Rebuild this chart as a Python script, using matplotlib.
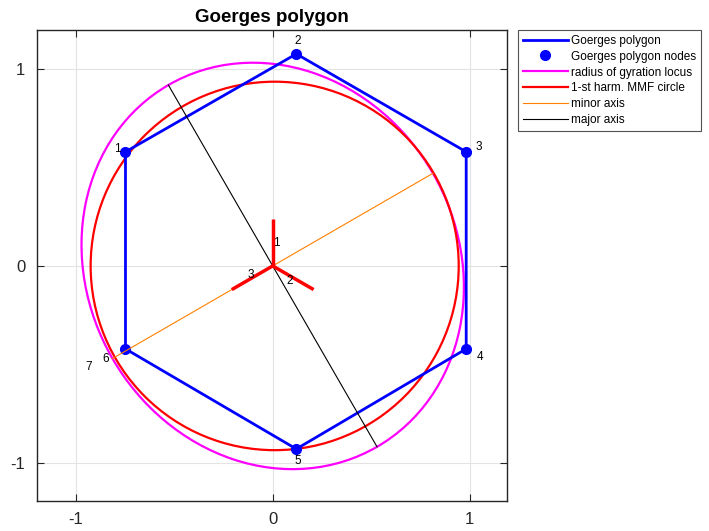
import matplotlib.pyplot as plt
from matplotlib.patches import Ellipse, Circle
from matplotlib.lines import Line2D
import numpy as np

plt.rcParams['font.family'] = ['Liberation Sans', 'DejaVu Sans']
plt.rcParams['axes.unicode_minus'] = False

# Goerges polygon nodes (closed back to node 1)
node_x = [-0.748, 0.120, 0.983, 0.983, 0.120, -0.748, -0.748]
node_y = [0.579, 1.076, 0.579, -0.421, -0.929, -0.421, 0.579]
node_labels = ['1', '2', '3', '4', '5', '6', '7']
label_x = [-0.79, 0.126, 1.049, 1.054, 0.126, -0.85, -0.935]
label_y = [0.594, 1.142, 0.604, -0.462, -0.99, -0.472, -0.513]

# radius of gyration ellipse
ell_center = (0.0, 0.0)
ell_a = 1.06
ell_b = 0.94
ell_angle = 120.0

# first harmonic MMF circle
circ_center = (0.01, 0.0)
circ_r = 0.935

# phase axes (star)
phase_len = 0.24
phase_angles = [90, -30, 210]
phase_labels = ['1', '2', '3']
phase_lx = [0.019, 0.085, -0.113]
phase_ly = [0.117, -0.076, -0.046]

fig = plt.figure(figsize=(7.09, 5.31), dpi=100)
ax = fig.add_axes([0.0515, 0.0565, 0.6635, 0.8865])

ax.grid(True, color='#e3e3e3', linewidth=0.8)
ax.set_axisbelow(True)

ax.plot(node_x, node_y, color='blue', linewidth=2)
ax.plot(node_x[:-1], node_y[:-1], 'o', color='blue', markersize=7)

ax.add_patch(Ellipse(ell_center, 2 * ell_a, 2 * ell_b, angle=ell_angle,
                     fill=False, edgecolor='magenta', linewidth=1.6))
ax.add_patch(Circle(circ_center, circ_r, fill=False, edgecolor='red', linewidth=1.6))

t = np.deg2rad(ell_angle)
ax.plot([-ell_b * np.cos(t - np.pi / 2), ell_b * np.cos(t - np.pi / 2)],
        [-ell_b * np.sin(t - np.pi / 2), ell_b * np.sin(t - np.pi / 2)],
        color='#ff8000', linewidth=0.8)
ax.plot([-ell_a * np.cos(t), ell_a * np.cos(t)],
        [-ell_a * np.sin(t), ell_a * np.sin(t)],
        color='black', linewidth=0.8)

for ang in phase_angles:
    r = np.deg2rad(ang)
    ax.plot([0, phase_len * np.cos(r)], [0, phase_len * np.sin(r)],
            color='red', linewidth=2.5, solid_capstyle='butt')
for lab, x, y in zip(phase_labels, phase_lx, phase_ly):
    ax.text(x, y, lab, fontsize=8.5, ha='center', va='center')

for lab, x, y in zip(node_labels, label_x, label_y):
    ax.text(x, y, lab, fontsize=8.5, ha='center', va='center')

ax.set_xlim(-1.2, 1.19)
ax.set_ylim(-1.193, 1.196)
ax.set_xticks([-1, 0, 1])
ax.set_yticks([-1, 0, 1])
ax.tick_params(direction='in', length=5, top=True, right=True, labelsize=12,
               color='#262626', labelcolor='#262626', pad=8)
for s in ax.spines.values():
    s.set_color('#262626')
    s.set_linewidth(1)

ax.set_title('Goerges polygon', fontsize=13.5, fontweight='bold', pad=6)

handles = [
    Line2D([], [], color='blue', linewidth=2),
    Line2D([], [], color='blue', marker='o', linestyle='none', markersize=7),
    Line2D([], [], color='magenta', linewidth=1.6),
    Line2D([], [], color='red', linewidth=1.6),
    Line2D([], [], color='#ff8000', linewidth=0.8),
    Line2D([], [], color='black', linewidth=0.8),
]
labels = ['Goerges polygon', 'Goerges polygon nodes', 'radius of gyration locus',
          '1-st harm. MMF circle', 'minor axis', 'major axis']
leg = fig.legend(handles, labels, loc='upper left', bbox_to_anchor=(518 / 709, 1 - 30 / 531),
                 fontsize=8.5, frameon=True, fancybox=False, edgecolor='#262626',
                 handlelength=3.8, handletextpad=0.3, labelspacing=0.33,
                 borderpad=0.4, borderaxespad=0)
leg.get_frame().set_linewidth(0.8)

fig.savefig('out.png', dpi=100)
